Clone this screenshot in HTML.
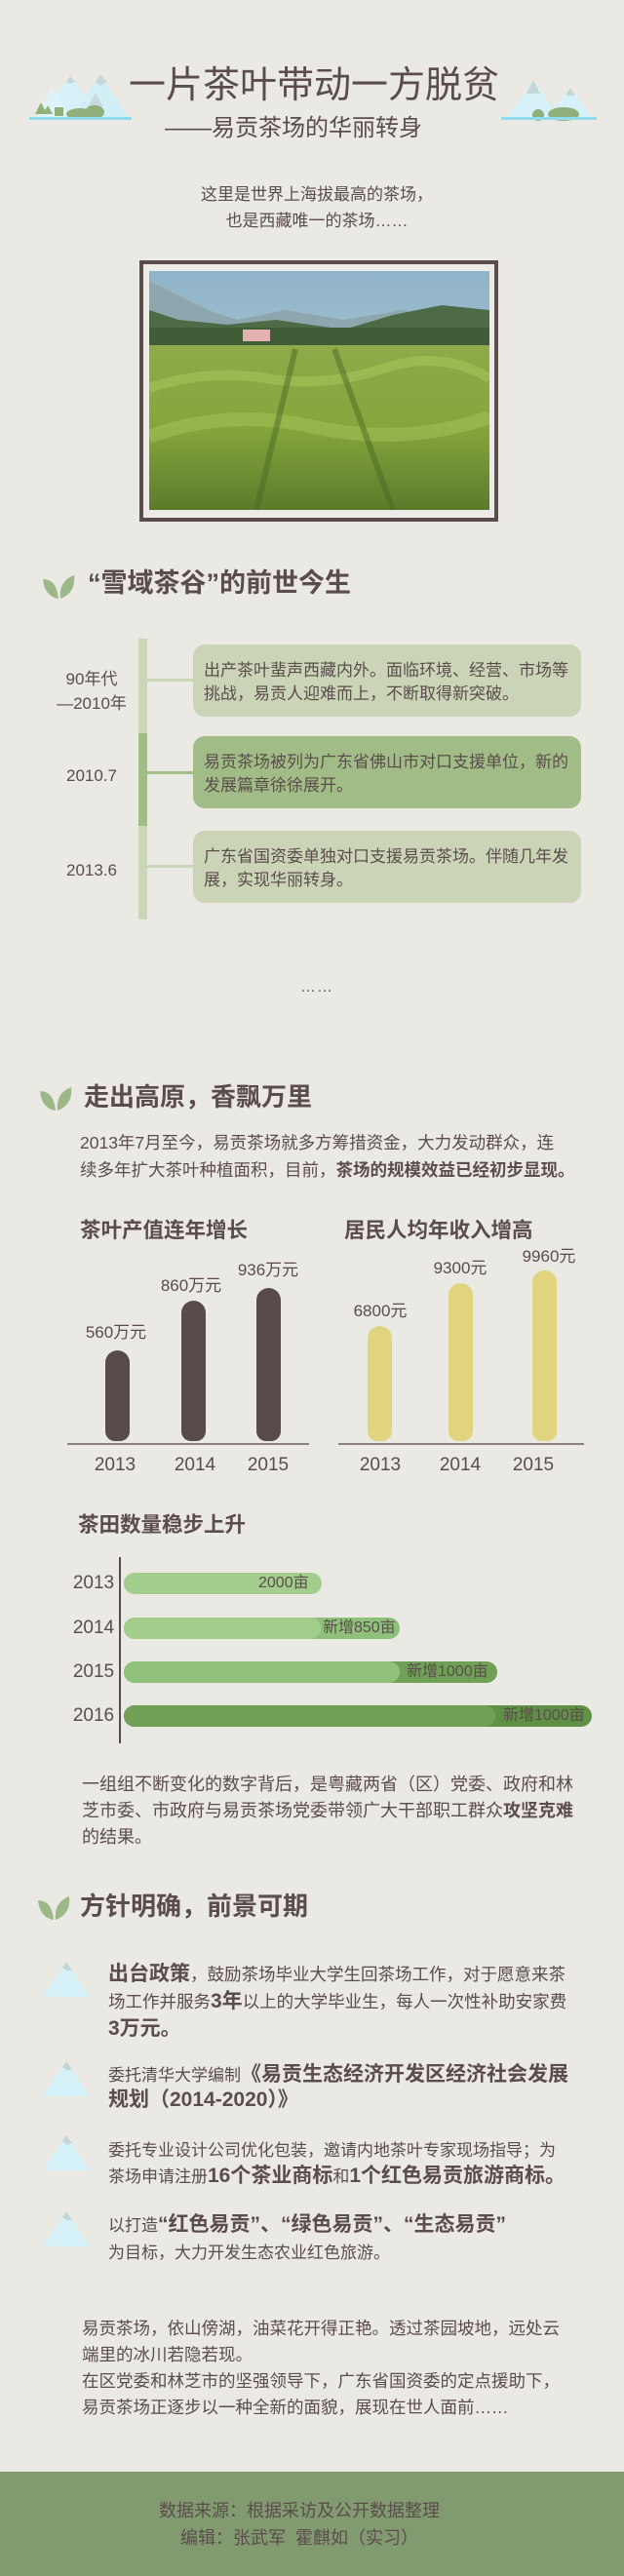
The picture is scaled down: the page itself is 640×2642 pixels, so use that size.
<!DOCTYPE html>
<html><head><meta charset="utf-8">
<style>
*{margin:0;padding:0;box-sizing:border-box}
body{width:640px;height:2642px;background:#eae9e4;position:relative;overflow:hidden;font-family:"Liberation Sans","Noto Sans CJK SC",sans-serif;color:#5a4d4b}
.a{position:absolute;white-space:nowrap}
.h{font-size:26px;font-weight:bold;line-height:30px}
.p{font-size:17.5px;line-height:27px}
b{font-weight:bold}
.box{position:absolute;left:198px;width:398px;height:74px;border-radius:12px;padding:15px 0 0 11px;font-size:17px;line-height:24px;white-space:nowrap}
.lbl{position:absolute;width:120px;left:34px;text-align:center;font-size:17px;line-height:25px}
.bar{position:absolute;width:25px;border-radius:12.5px 12.5px 10px 10px}
.vl{position:absolute;width:100px;text-align:center;font-size:17px;line-height:20px}
.yr{position:absolute;width:60px;text-align:center;font-size:19px;line-height:22px}
.hb{position:absolute;height:22px;border-radius:11px;overflow:hidden}
.hb span{position:absolute;top:0;height:22px}
.hl{position:absolute;font-size:16px;line-height:22px;white-space:nowrap}
.it{position:absolute;left:111px;font-size:17.5px;line-height:27px;white-space:nowrap}
.it b{font-size:21px}
</style></head><body>

<!-- mountains -->
<svg class="a" style="left:0;top:0" width="640" height="160">
 <g>
  <polygon points="40,121 72,78 104,121" fill="#d6f1f7"/>
  <polygon points="38,121 53,89 72,121" fill="#dff4f8"/>
  <polygon points="72,121 103,77 132,121" fill="#d3eff6"/>
  <polygon points="90,110 98,95 106,110" fill="#c9d8da"/>
  <polygon points="68,84 72,78 77,84 72,86" fill="#c7d6d9"/>
  <polygon points="98,84 103,77 110,84 103,88" fill="#c7d6d9"/>
  <polygon points="36,117 42,105 48,117" fill="#8fb07a"/>
  <polygon points="44,117 49,108 54,117" fill="#8fb07a"/>
  <rect x="56" y="110" width="9" height="9" fill="#8fb07a"/>
  <ellipse cx="82" cy="117" rx="14" ry="6" fill="#8fb07a"/>
  <ellipse cx="97" cy="115" rx="10" ry="7" fill="#8fb07a"/>
  <rect x="30" y="120" width="105" height="3" fill="#8fdcf0"/>
 </g>
 <g>
  <polygon points="520,122 547,82 574,122" fill="#d6f1f7"/>
  <polygon points="560,122 585,90 608,122" fill="#d6f1f7"/>
  <polygon points="540,96 547,82 554,96" fill="#c6d6d8"/>
  <polygon points="580,98 585,90 590,98" fill="#c6d6d8"/>
  <ellipse cx="552" cy="118" rx="6" ry="6" fill="#8fb07a"/>
  <ellipse cx="578" cy="117" rx="16" ry="7" fill="#8fb07a"/>
  <rect x="514" y="120" width="98" height="3" fill="#8fdcf0"/>
 </g>
</svg>

<div class="a" style="left:0;width:640px;text-align:center;top:66px;font-size:38px;line-height:44px;padding-left:4px">一片茶叶带动一方脱贫</div>
<div class="a" style="left:169px;top:118px;font-size:24px;line-height:28px">——易贡茶场的华丽转身</div>
<div class="a" style="left:0;width:650px;text-align:center;top:186px;font-size:17px;line-height:27px">这里是世界上海拔最高的茶场，<br>也是西藏唯一的茶场……</div>

<!-- photo -->
<div class="a" style="left:143px;top:267px;width:368px;height:268px;border:4px solid #5a4d4b;background:#ecebe6"></div>
<svg class="a" style="left:153px;top:278px" width="349" height="245" viewBox="0 0 349 245">
 <defs>
  <linearGradient id="sky" x1="0" y1="0" x2="0" y2="1"><stop offset="0" stop-color="#8fb3c9"/><stop offset="1" stop-color="#c6d6dc"/></linearGradient>
  <linearGradient id="fld" x1="0" y1="0" x2="0" y2="1"><stop offset="0" stop-color="#8faa4a"/><stop offset="0.5" stop-color="#86a63c"/><stop offset="1" stop-color="#5d7a2c"/></linearGradient>
 </defs>
 <rect width="349" height="245" fill="url(#sky)"/>
 <polygon points="0,10 60,40 90,50 140,40 200,50 260,40 349,55 349,90 0,90" fill="#8ea7ae"/>
 <polygon points="0,40 30,50 80,55 130,50 200,60 250,45 300,35 349,40 349,80 0,80" fill="#4d6b46"/>
 <rect x="0" y="58" width="349" height="25" fill="#3f5e38"/>
 <rect x="96" y="60" width="28" height="12" fill="#e2b3b0"/>
 <rect x="0" y="76" width="349" height="169" fill="url(#fld)"/>
 <path d="M0,120 Q60,100 120,110 T240,100 T349,110" stroke="#a9c45a" stroke-width="10" fill="none" opacity=".6"/>
 <path d="M0,170 Q80,140 170,160 T349,150" stroke="#a9c45a" stroke-width="14" fill="none" opacity=".5"/>
 <path d="M150,80 L110,245 M190,80 L250,245" stroke="#4d6a25" stroke-width="6" opacity=".5"/>
</svg>

<!-- section 1 -->
<svg class="a" style="left:42px;top:588px" width="38" height="28"><path d="M2,6 Q16,6 18,26 Q4,24 2,6Z" fill="#9cb889"/><path d="M34,2 Q36,20 20,26 Q18,8 34,2Z" fill="#9cb889"/></svg>
<div class="a h" style="left:90px;top:583px;font-size:27px">“雪域茶谷”的前世今生</div>

<div class="a" style="left:142px;top:655px;width:9px;height:288px;background:#cbd5b8"></div>
<div class="a" style="left:142px;top:752px;width:9px;height:95px;background:#a2bc87"></div>
<div class="a" style="left:151px;top:696px;width:48px;height:3px;background:#cbd5b8"></div>
<div class="a" style="left:151px;top:791px;width:48px;height:3px;background:#a2bc87"></div>
<div class="a" style="left:151px;top:887px;width:48px;height:3px;background:#cbd5b8"></div>

<div class="lbl" style="top:684px">90年代<br>—2010年</div>
<div class="lbl" style="top:783px">2010.7</div>
<div class="lbl" style="top:880px">2013.6</div>

<div class="box" style="top:661px;background:#cbd4b7">出产茶叶蜚声西藏内外。面临环境、经营、市场等<br>挑战，易贡人迎难而上，不断取得新突破。</div>
<div class="box" style="top:755px;background:#a2bc87">易贡茶场被列为广东省佛山市对口支援单位，新的<br>发展篇章徐徐展开。</div>
<div class="box" style="top:852px;background:#cbd4b7">广东省国资委单独对口支援易贡茶场。伴随几年发<br>展，实现华丽转身。</div>

<div class="a" style="left:308px;top:1003px;font-size:16px;line-height:20px;letter-spacing:1px">……</div>

<!-- section 2 -->
<svg class="a" style="left:39px;top:1113px" width="38" height="28"><path d="M2,6 Q16,6 18,26 Q4,24 2,6Z" fill="#9cb889"/><path d="M34,2 Q36,20 20,26 Q18,8 34,2Z" fill="#9cb889"/></svg>
<div class="a h" style="left:86px;top:1110px">走出高原，香飘万里</div>
<div class="a p" style="left:82px;top:1158px;line-height:28px">2013年7月至今，易贡茶场就多方筹措资金，大力发动群众，连<br>续多年扩大茶叶种植面积，目前，<b>茶场的规模效益已经初步显现。</b></div>

<div class="a" style="left:82px;top:1249px;font-size:21.5px;line-height:26px;font-weight:bold">茶叶产值连年增长</div>
<div class="a" style="left:353px;top:1249px;font-size:21.5px;line-height:26px;font-weight:bold">居民人均年收入增高</div>

<div class="bar" style="left:108px;top:1385px;height:93px;background:#574c4a"></div>
<div class="bar" style="left:186px;top:1334px;height:144px;background:#574c4a"></div>
<div class="bar" style="left:263px;top:1321px;height:157px;background:#574c4a"></div>
<div class="a" style="left:69px;top:1480px;width:248px;height:2px;background:#8a8280"></div>
<div class="vl" style="left:69px;top:1357px">560万元</div>
<div class="vl" style="left:146px;top:1309px">860万元</div>
<div class="vl" style="left:225px;top:1293px">936万元</div>
<div class="yr" style="left:88px;top:1492px">2013</div>
<div class="yr" style="left:170px;top:1492px">2014</div>
<div class="yr" style="left:245px;top:1492px">2015</div>

<div class="bar" style="left:377px;top:1360px;height:118px;background:#e0d57e"></div>
<div class="bar" style="left:460px;top:1316px;height:162px;background:#e0d57e"></div>
<div class="bar" style="left:546px;top:1303px;height:175px;background:#e0d57e"></div>
<div class="a" style="left:347px;top:1480px;width:252px;height:2px;background:#8a8280"></div>
<div class="vl" style="left:340px;top:1335px">6800元</div>
<div class="vl" style="left:422px;top:1291px">9300元</div>
<div class="vl" style="left:513px;top:1279px">9960元</div>
<div class="yr" style="left:360px;top:1492px">2013</div>
<div class="yr" style="left:442px;top:1492px">2014</div>
<div class="yr" style="left:517px;top:1492px">2015</div>

<div class="a" style="left:80px;top:1551px;font-size:21.5px;line-height:26px;font-weight:bold">茶田数量稳步上升</div>
<div class="a" style="left:122px;top:1597px;width:2px;height:191px;background:#5a4d4b"></div>
<div class="yr" style="left:66px;top:1613px">2013</div>
<div class="yr" style="left:66px;top:1659px">2014</div>
<div class="yr" style="left:66px;top:1704px">2015</div>
<div class="yr" style="left:66px;top:1749px">2016</div>

<div class="hb" style="left:127px;top:1613px;width:203px"><span style="left:0;width:203px;background:#a2cd8d"></span></div>
<div class="hl" style="left:265px;top:1613px">2000亩</div>
<div class="hb" style="left:127px;top:1659px;width:283px"><span style="left:0;width:283px;background:#8fc07a"></span><span style="left:0;width:202px;background:#a2cd8d;border-radius:0 11px 11px 0"></span></div>
<div class="hl" style="left:331px;top:1659px">新增850亩</div>
<div class="hb" style="left:127px;top:1704px;width:383px"><span style="left:0;width:383px;background:#6fa055"></span><span style="left:0;width:283px;background:#91c27c;border-radius:0 11px 11px 0"></span></div>
<div class="hl" style="left:417px;top:1704px">新增1000亩</div>
<div class="hb" style="left:127px;top:1749px;width:480px"><span style="left:0;width:480px;background:#5e9046"></span><span style="left:0;width:381px;background:#6fa055;border-radius:0 11px 11px 0"></span></div>
<div class="hl" style="left:516px;top:1749px">新增1000亩</div>

<div class="a p" style="left:84px;top:1817px;font-size:18px">一组组不断变化的数字背后，是粤藏两省（区）党委、政府和林<br>芝市委、市政府与易贡茶场党委带领广大干部职工群众<b>攻坚克难</b><br>的结果。</div>

<!-- section 3 -->
<svg class="a" style="left:37px;top:1943px" width="38" height="28"><path d="M2,6 Q16,6 18,26 Q4,24 2,6Z" fill="#9cb889"/><path d="M34,2 Q36,20 20,26 Q18,8 34,2Z" fill="#9cb889"/></svg>
<div class="a h" style="left:82px;top:1940px">方针明确，前景可期</div>

<svg class="a" style="left:42px;top:2010px" width="52" height="40"><polygon points="2,38 26,2 50,38" fill="#d4f2f8"/><polygon points="22,8 26,2 32,10 27,12" fill="#c6d6d8"/></svg>
<svg class="a" style="left:42px;top:2112px" width="52" height="40"><polygon points="2,38 26,2 50,38" fill="#d4f2f8"/><polygon points="22,8 26,2 32,10 27,12" fill="#c6d6d8"/></svg>
<svg class="a" style="left:42px;top:2188px" width="52" height="40"><polygon points="2,38 26,2 50,38" fill="#d4f2f8"/><polygon points="22,8 26,2 32,10 27,12" fill="#c6d6d8"/></svg>
<svg class="a" style="left:42px;top:2266px" width="52" height="40"><polygon points="2,38 26,2 50,38" fill="#d4f2f8"/><polygon points="22,8 26,2 32,10 27,12" fill="#c6d6d8"/></svg>

<div class="it" style="top:2011px"><b>出台政策</b>，鼓励茶场毕业大学生回茶场工作，对于愿意来茶<br>场工作并服务<b>3年</b>以上的大学毕业生，每人一次性补助安家费<br><b>3万元。</b></div>
<div class="it" style="top:2115px;font-size:17px;line-height:25px">委托清华大学编制<b>《易贡生态经济开发区经济社会发展<br>规划（2014-2020）》</b></div>
<div class="it" style="top:2193px;font-size:17px;line-height:26px">委托专业设计公司优化包装，邀请内地茶叶专家现场指导；为<br>茶场申请注册<b>16个茶业商标</b>和<b>1个红色易贡旅游商标。</b></div>
<div class="it" style="top:2268px;font-size:17px;line-height:28px">以打造<b>“红色易贡”、“绿色易贡”、“生态易贡”</b><br>为目标，大力开发生态农业红色旅游。</div>

<div class="a p" style="left:84px;top:2375px;font-size:17.5px">易贡茶场，依山傍湖，油菜花开得正艳。透过茶园坡地，远处云<br>端里的冰川若隐若现。<br>在区党委和林芝市的坚强领导下，广东省国资委的定点援助下，<br>易贡茶场正逐步以一种全新的面貌，展现在世人面前……</div>

<div class="a" style="left:0;top:2535px;width:640px;height:107px;background:#819a6f"></div>
<div class="a" style="left:0;width:614px;text-align:center;top:2561px;font-size:18px;line-height:28px">数据来源：根据采访及公开数据整理<br>编辑：张武军&nbsp;&nbsp;霍麒如（实习）</div>

</body></html>
